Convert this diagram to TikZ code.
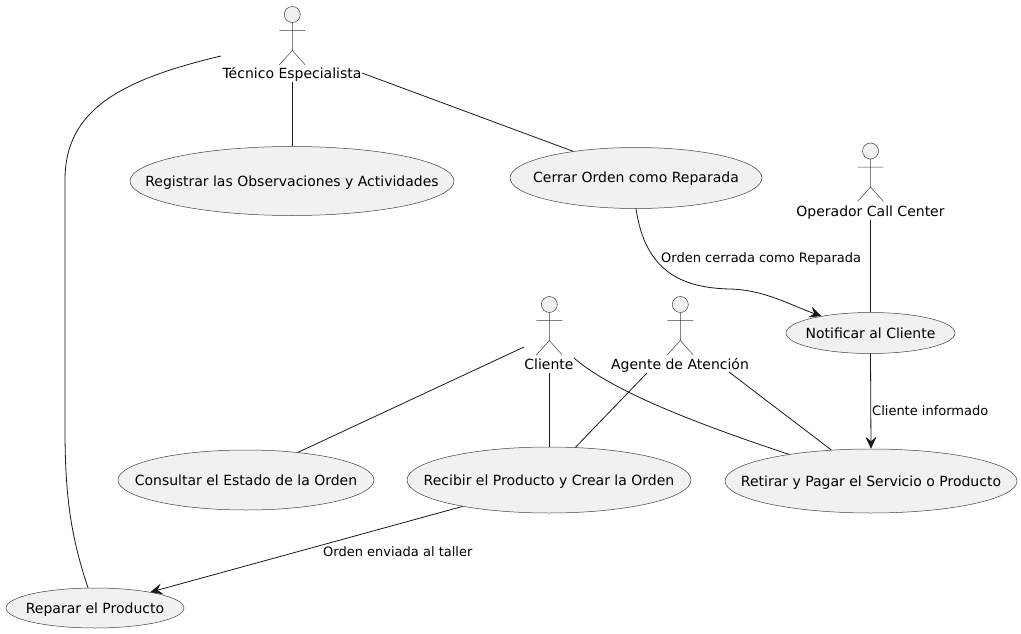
\documentclass[tikz,border=0pt]{standalone}
\usepackage{fontspec}
\setmainfont{DejaVu Sans}
\usetikzlibrary{shapes.geometric,arrows.meta}
\definecolor{fillc}{HTML}{F1F1F1}
\definecolor{linec}{HTML}{181818}
\definecolor{thinc}{HTML}{404040}
\tikzset{
  uc/.style={draw=thinc,line width=0.5pt,fill=fillc,ellipse,inner sep=0pt,text height=10.5pt,text depth=3.5pt,font=\fontsize{14}{16}\selectfont},
  actorname/.style={inner sep=0pt,text height=10.5pt,text depth=3.5pt,font=\fontsize{14}{16}\selectfont},
  stick/.style={draw=thinc,line width=0.5pt},
  link/.style={draw=linec,line width=0.8pt},
  flow/.style={link,-{Stealth[length=12pt,width=11pt,inset=4.5pt]}},
  lbl/.style={inner sep=0pt,text height=9.5pt,text depth=3pt,font=\fontsize{13}{15}\selectfont}
}
\newcommand{\stickman}[2]{% x, y of head centre
  \draw[stick,fill=fillc] (#1,#2) circle (8);
  \draw[stick] (#1,#2+8) -- (#1,#2+36) (#1-13,#2+16) -- (#1+13,#2+16)
    (#1-13,#2+50.5) -- (#1,#2+36) -- (#1+13,#2+50.5);
}
\newcommand{\uctext}[1]{\makebox[0pt]{\raisebox{-1.5pt}[0pt][0pt]{#1}}}
\begin{document}
\begin{tikzpicture}[x=1pt,y=-1pt]
\useasboundingbox (0,0) rectangle (1021,634);
\stickman{292.3}{14.5}
\stickman{549.3}{304.5}
\stickman{680.3}{304.5}
\stickman{870.5}{151}
\node[actorname] (tec) at (292,75) {Técnico Especialista};
\node[actorname] (cli) at (549,365.5) {Cliente};
\node[actorname] (age) at (680,365.5) {Agente de Atención};
\node[actorname] (ope) at (870.5,212.5) {Operador Call Center};
\node[uc,minimum width=324,minimum height=69] (reg) at (292,181) {\uctext{Registrar las Observaciones y Actividades}};
\node[uc,minimum width=252,minimum height=61] (cer) at (636,178) {\uctext{Cerrar Orden como Reparada}};
\node[uc,minimum width=169,minimum height=41] (not) at (870.5,333) {\uctext{Notificar al Cliente}};
\node[uc,minimum width=256,minimum height=60] (con) at (246,480) {\uctext{Consultar el Estado de la Orden}};
\node[uc,minimum width=284,minimum height=66] (rec) at (549,480) {\uctext{Recibir el Producto y Crear la Orden}};
\node[uc,minimum width=292,minimum height=64] (ret) at (871,481) {\uctext{Retirar y Pagar el Servicio o Producto}};
\node[uc,minimum width=178,minimum height=40] (rep) at (95,608) {\uctext{Reparar el Producto}};
\coordinate (t1) at (221,56);
\coordinate (t2) at (362,73);
\coordinate (c1) at (524,347);
\coordinate (c2) at (574,358);
\coordinate (a1) at (647,373);
\coordinate (a2) at (729,372);
\draw[link] (t1) .. controls (120,80) and (65,110) .. (65,180) -- (65,430) .. controls (65,500) and (72,540) .. (rep.109);
\draw[link] (tec.south) -- (reg.north);
\draw[link] (t2) -- (cer.157);
\draw[link] (ope.south) -- (not.north);
\draw[link] (c1) -- (con.28);
\draw[link] (cli.south) -- (rec.north);
\draw[link] (c2) .. controls (605,385) and (670,415) .. (ret.162);
\draw[link] (a1) -- (rec.51);
\draw[link] (a2) -- (ret.142);
\draw[flow] (cer.south) .. controls (645,270) and (680,288) .. (730,289) .. controls (765,290) and (790,305) .. (not.161);
\draw[flow] (not.south) -- (ret.north);
\draw[flow] (rec.197.6) -- (rep.16);
\node[lbl,anchor=west] at (661,259) {Orden cerrada como Reparada};
\node[lbl,anchor=west] at (872,412) {Cliente informado};
\node[lbl,anchor=west] at (323,553) {Orden enviada al taller};
\end{tikzpicture}
\end{document}
